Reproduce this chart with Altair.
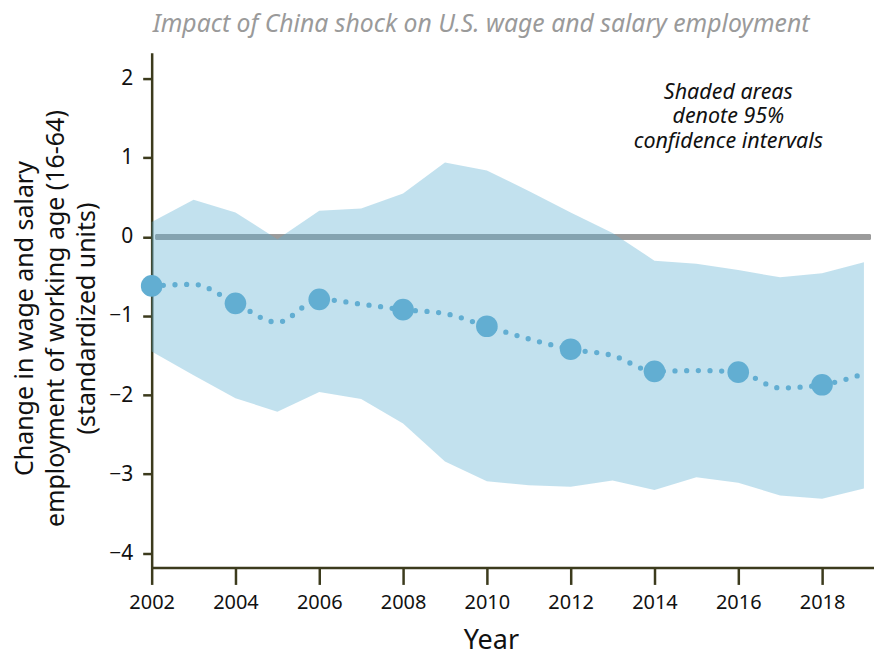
import altair as alt
import pandas as pd

# ---- data ----
years = list(range(2002, 2020))
estimate = [-0.62, -0.60, -0.84, -1.08, -0.79, -0.85, -0.92, -0.97, -1.13, -1.29,
            -1.42, -1.50, -1.70, -1.69, -1.71, -1.91, -1.87, -1.73]
upper_ci = [0.19, 0.47, 0.31, -0.03, 0.33, 0.36, 0.55, 0.94, 0.84, 0.58,
            0.31, 0.05, -0.30, -0.34, -0.42, -0.51, -0.46, -0.32]
lower_ci = [-1.45, -1.75, -2.04, -2.21, -1.96, -2.05, -2.36, -2.84, -3.09, -3.14,
            -3.16, -3.08, -3.20, -3.04, -3.11, -3.27, -3.31, -3.18]
x_tick_years = [2002, 2004, 2006, 2008, 2010, 2012, 2014, 2016, 2018]
y_ticks = [-4, -3, -2, -1, 0, 1, 2]

title_text = "Impact of China shock on U.S. wage and salary employment"
y_title = ["Change in wage and salary", "employment of working age (16-64)", "(standardized units)"]
note_text = ["Shaded areas", "denote 95%", "confidence intervals"]

df = pd.DataFrame({"year": years, "est": estimate, "lower": lower_ci, "upper": upper_ci})

BLUE = "#62aed2"
AXIS = "#3c3b1d"
FONT = "Noto Sans"

x_scale = alt.Scale(domain=[2002, 2019.24], nice=False, zero=False)
y_scale = alt.Scale(domain=[-4.18, 2.33], nice=False, zero=False)

x_axis = alt.Axis(values=x_tick_years, format="d", title="Year", grid=False,
                  labelFont=FONT, labelFontSize=20, labelColor="#111", labelPadding=8,
                  labelFlush=False, labelOverlap=False,
                  tickSize=17, titleFont=FONT, titleFontSize=27, titleFontWeight="normal",
                  titleColor="#111", titleX=340, titleY=81, titleAlign="center",
                  titleBaseline="alphabetic")
y_axis = alt.Axis(values=y_ticks, title=y_title, grid=False,
                  labelFont=FONT, labelFontSize=21, labelColor="#111", labelPadding=10,
                  labelFlush=False, labelOverlap=False,
                  tickSize=9, titleFont=FONT, titleFontSize=25, titleFontWeight="normal",
                  titleColor="#111", titleAngle=270, titleX=-139, titleY=266,
                  titleAlign="center", titleBaseline="top", titleLineHeight=31)

base = alt.Chart(df)

zero_rule = base.mark_rule(color="#9b9b9b", strokeWidth=4.5).encode(
    x=alt.datum(2002.1, scale=x_scale, axis=x_axis),
    x2=alt.datum(2019.15),
    y=alt.datum(0, scale=y_scale, axis=y_axis),
)

band = base.mark_area(color="#5fb0d2", opacity=0.38).encode(
    x=alt.X("year:Q", scale=x_scale, axis=x_axis),
    y=alt.Y("upper:Q", scale=y_scale, axis=y_axis),
    y2="lower:Q",
)

dotted = base.mark_line(color=BLUE, strokeWidth=5.3, strokeDash=[0, 11.7],
                        strokeCap="round", interpolate="monotone").encode(
    x=alt.X("year:Q", scale=x_scale, axis=x_axis),
    y=alt.Y("est:Q", scale=y_scale, axis=y_axis),
)

points = base.mark_circle(color=BLUE, opacity=1, size=470).encode(
    x=alt.X("year:Q", scale=x_scale, axis=x_axis),
    y=alt.Y("est:Q", scale=y_scale, axis=y_axis),
).transform_filter("datum.year % 2 == 0")

note = alt.Chart(pd.DataFrame({"t": [note_text]})).mark_text(
    font=FONT, fontStyle="italic", fontSize=21.5, color="#111",
    align="center", baseline="alphabetic", lineHeight=25,
).encode(text="t", x=alt.value(578), y=alt.value(46))

title = alt.Chart(pd.DataFrame({"t": [title_text]})).mark_text(
    font=FONT, fontStyle="italic", fontSize=24.8, color="#9a9a9a",
    align="left", baseline="alphabetic",
).encode(text="t", x=alt.value(1), y=alt.value(-21))

chart = alt.layer(zero_rule, band, dotted, points, note, title).properties(
    width=724, height=516,
    autosize=alt.AutoSizeParams(type="none"),
    padding={"left": 144, "top": 44, "right": 0, "bottom": 88},
).configure_view(stroke=None).configure_axis(
    domainColor=AXIS, domainWidth=2.5, tickColor=AXIS, tickWidth=2.5,
)

chart.save("out.html", embed_options={"renderer": "svg", "actions": False})
